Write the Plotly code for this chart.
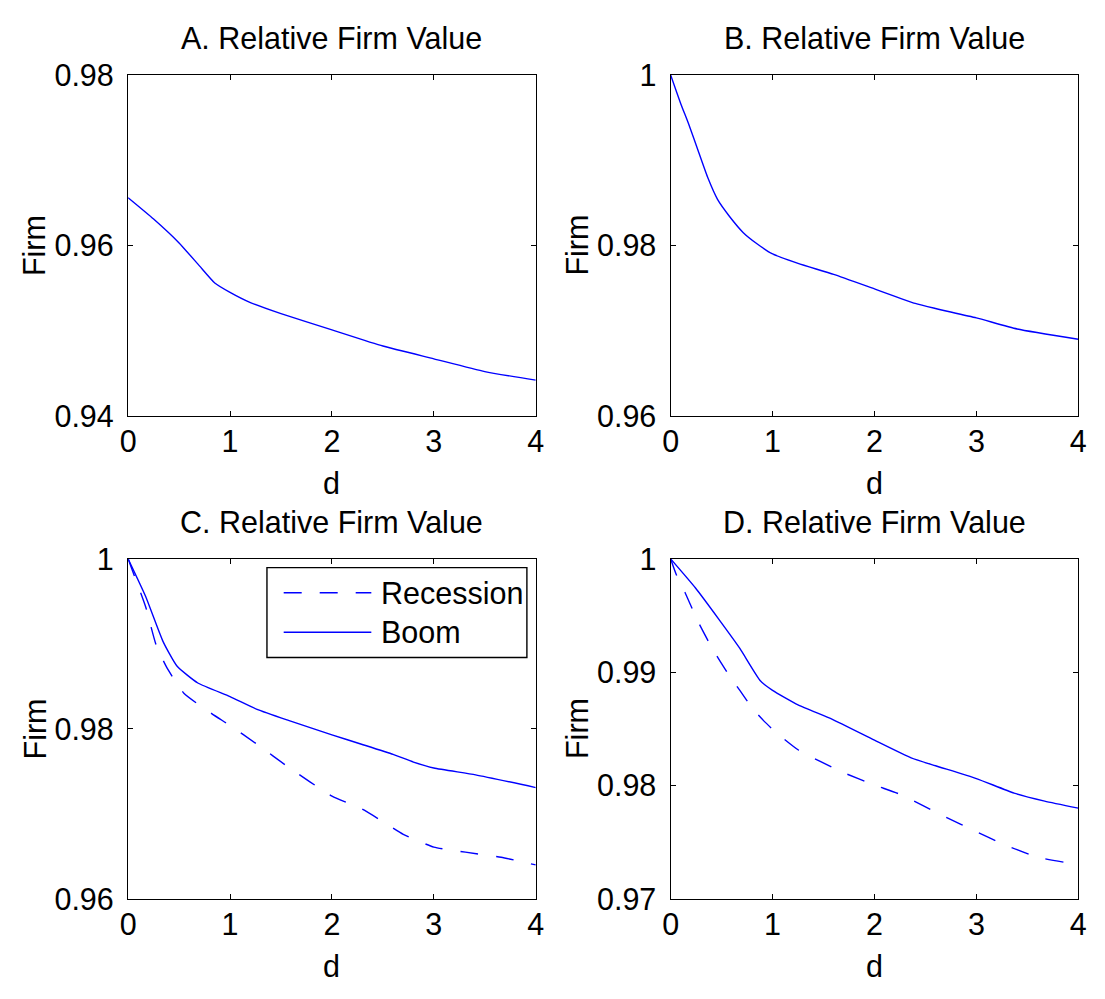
import plotly.graph_objects as go

W, H = 1105, 999
FONT = "Liberation Sans, Arial, Helvetica, sans-serif"
BLUE = "#0000ff"
FS = 30.5

# ---- data -------------------------------------------------------------
a_x = [0, 0.25, 0.5, 0.7, 0.85, 1.0, 1.2, 1.5, 2.0, 2.5, 3.0, 3.5, 4.0]
a_y = [0.9656, 0.9631, 0.9603, 0.9576, 0.9556, 0.9545, 0.9533, 0.9520,
       0.9501, 0.9482, 0.9467, 0.9452, 0.9442]

b_x = [0, 0.1, 0.175, 0.276, 0.366, 0.46, 0.578, 0.713, 0.847, 1.0, 1.25,
       1.6, 2.0, 2.4, 2.6, 3.0, 3.4, 4.0]
b_y = [1.0, 0.9966, 0.9943, 0.9909, 0.9879, 0.9854, 0.9834, 0.9815, 0.9802,
       0.9790, 0.9779, 0.9766, 0.9749, 0.9732, 0.9726, 0.9715, 0.9702, 0.9690]

c_boom_x = [0, 0.171, 0.342, 0.479, 0.684, 1.0, 1.265, 1.573, 2.0, 2.29,
            2.6, 2.8, 3.0, 3.41, 4.0]
c_boom_y = [1.0, 0.9956, 0.9903, 0.9874, 0.9854, 0.9838, 0.9823, 0.9810,
            0.9793, 0.9782, 0.9770, 0.9761, 0.9754, 0.9746, 0.9731]
c_rec_x = [0, 0.068, 0.171, 0.274, 0.376, 0.547, 0.82, 1.0, 1.265, 1.573,
           2.0, 2.29, 2.5, 2.7, 3.0, 3.31, 3.66, 4.0]
c_rec_y = [1.0, 0.9978, 0.9944, 0.9899, 0.9873, 0.9842, 0.9818, 0.9804,
           0.9782, 0.9755, 0.9721, 0.9706, 0.9691, 0.9676, 0.9661, 0.9655,
           0.9649, 0.9640]

d_boom_x = [0, 0.242, 0.477, 0.679, 0.88, 1.0, 1.25, 1.587, 2.0, 2.36, 2.6,
            3.0, 3.37, 3.67, 4.0]
d_boom_y = [1.0, 0.99745, 0.99462, 0.9921, 0.98925, 0.9884, 0.98712,
            0.98585, 0.98401, 0.98245, 0.98175, 0.98062, 0.97934, 0.97863,
            0.97801]
d_rec_x = [0, 0.057, 0.141, 0.276, 0.41, 0.578, 0.679, 0.813, 0.914, 1.03,
           1.25, 1.687, 2.0, 2.26, 2.7, 3.0, 3.27, 3.6, 4.0]
d_rec_y = [1.0, 0.99858, 0.99703, 0.99434, 0.99208, 0.98967, 0.9884,
           0.9867, 0.98571, 0.98472, 0.98316, 0.98118, 0.98005, 0.9792,
           0.97722, 0.97594, 0.97481, 0.97368, 0.97303]

x_ticks = [0, 1, 2, 3, 4]
y_ticks = {
    "A": [0.94, 0.96, 0.98],
    "B": [0.96, 0.98, 1.0],
    "C": [0.96, 0.98, 1.0],
    "D": [0.97, 0.98, 0.99, 1.0],
}
y_ticktext = {
    "A": ["0.94", "0.96", "0.98"],
    "B": ["0.96", "0.98", "1"],
    "C": ["0.96", "0.98", "1"],
    "D": ["0.97", "0.98", "0.99", "1"],
}
y_ranges = {"A": [0.94, 0.98], "B": [0.96, 1.0], "C": [0.96, 1.0], "D": [0.97, 1.0]}
titles = {k: f"{k}. Relative Firm Value" for k in "ABCD"}
legend_names = ["Recession", "Boom"]

# ---- layout helpers (pixel boxes -> paper fractions) -------------------
def px(x):
    return x / W

def py(y):
    return 1 - y / H

boxes = {  # left, right, top, bottom in pixels
    "A": (122, 536, 60, 413),
    "B": (673, 1087, 60, 413),
    "C": (122, 536, 561, 913),
    "D": (673, 1087, 561, 913),
}
axis_ids = {"A": "", "B": "2", "C": "3", "D": "4"}

fig = go.Figure()

line_solid = dict(color=BLUE, width=1.4, shape="spline", smoothing=0.5)
line_dash = dict(color=BLUE, width=1.4, dash="18px,18px", shape="spline", smoothing=0.5)

fig.add_trace(go.Scatter(x=a_x, y=a_y, mode="lines", line=line_solid,
                         xaxis="x", yaxis="y", showlegend=False))
fig.add_trace(go.Scatter(x=b_x, y=b_y, mode="lines", line=line_solid,
                         xaxis="x2", yaxis="y2", showlegend=False))
fig.add_trace(go.Scatter(x=c_rec_x, y=c_rec_y, mode="lines", line=line_dash,
                         xaxis="x3", yaxis="y3", name=legend_names[0], showlegend=False))
fig.add_trace(go.Scatter(x=c_boom_x, y=c_boom_y, mode="lines", line=line_solid,
                         xaxis="x3", yaxis="y3", name=legend_names[1], showlegend=False))
fig.add_trace(go.Scatter(x=d_rec_x, y=d_rec_y, mode="lines", line=line_dash,
                         xaxis="x4", yaxis="y4", showlegend=False))
fig.add_trace(go.Scatter(x=d_boom_x, y=d_boom_y, mode="lines", line=line_solid,
                         xaxis="x4", yaxis="y4", showlegend=False))

tickfont = dict(family=FONT, size=FS, color="black")
common = dict(showline=True, linecolor="black", linewidth=1.4, mirror="ticks",
              ticks="inside", ticklen=5, tickwidth=1.3, tickcolor="black",
              showgrid=False, zeroline=False, tickfont=tickfont,
              fixedrange=True)

layout = dict(
    width=W, height=H,
    margin=dict(l=0, r=0, t=0, b=0),
    paper_bgcolor="white", plot_bgcolor="white",
    showlegend=False,
    annotations=[], shapes=[],
)

for key, (l, r, t, b) in boxes.items():
    sid = axis_ids[key]
    layout["xaxis" + sid] = dict(
        domain=[px(l), px(r)], range=[0, 4], anchor="y" + sid,
        tickmode="array", tickvals=x_ticks, ticktext=[str(v) for v in x_ticks],
        ticklabelstandoff=-2, **common)
    layout["yaxis" + sid] = dict(
        domain=[py(b), py(t)], range=y_ranges[key], anchor="x" + sid,
        tickmode="array", tickvals=y_ticks[key], ticktext=y_ticktext[key],
        ticklabelstandoff=7, **common)
    cx = (l + r) / 2
    cy = (t + b) / 2
    # panel title
    layout["annotations"].append(dict(
        text=titles[key], xref="paper", yref="paper", x=px(cx), y=py(t - 38.5),
        xanchor="center", yanchor="middle", showarrow=False,
        font=dict(family=FONT, size=FS, color="black")))
    # x-axis label
    layout["annotations"].append(dict(
        text="d", xref="paper", yref="paper", x=px(cx), y=py(b + 69),
        xanchor="center", yanchor="middle", showarrow=False,
        font=dict(family=FONT, size=FS, color="black")))
    # y-axis label
    layout["annotations"].append(dict(
        text="Firm", xref="paper", yref="paper", x=px(l - 95), y=py(cy),
        xanchor="center", yanchor="middle", showarrow=False, textangle=-90,
        font=dict(family=FONT, size=FS, color="black")))

# legend box inside panel C
lg_l, lg_r, lg_t, lg_b = 263, 527, 570, 663
layout["shapes"].append(dict(
    type="rect", xref="paper", yref="paper",
    x0=px(lg_l), x1=px(lg_r), y0=py(lg_b), y1=py(lg_t),
    line=dict(color="black", width=1.4), fillcolor="white", layer="above"))
rows = [(596, "18px,18px", legend_names[0]), (637, "solid", legend_names[1])]
for yy, dash, name in rows:
    layout["shapes"].append(dict(
        type="line", xref="paper", yref="paper",
        x0=px(280), x1=px(369), y0=py(yy), y1=py(yy),
        line=dict(color=BLUE, width=1.4, dash=dash), layer="above"))
    layout["annotations"].append(dict(
        text=name, xref="paper", yref="paper", x=px(377), y=py(yy),
        xanchor="left", yanchor="middle", showarrow=False,
        font=dict(family=FONT, size=FS, color="black")))

fig.update_layout(**layout)
fig.write_html("out.html")
